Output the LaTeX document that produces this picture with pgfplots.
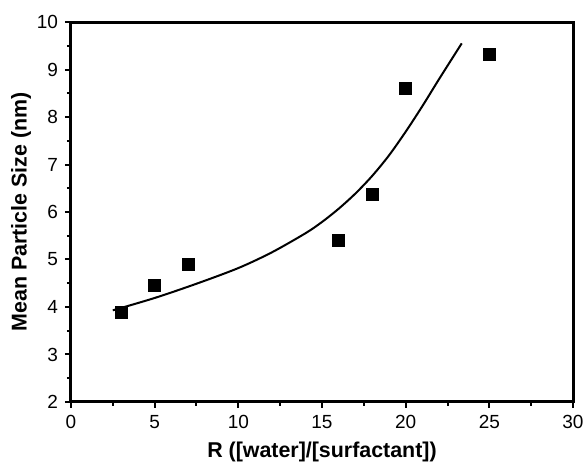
\documentclass[border=0pt]{standalone}
\usepackage{pgfplots}
\pgfplotsset{compat=1.18}
\usepackage{fontspec}
\setmainfont{Liberation Sans}

\begin{document}
\begin{tikzpicture}
\begin{axis}[
  scale only axis,
  width=251pt, height=190pt,
  xmin=0, xmax=30, ymin=2, ymax=10,
  xtick={0,5,...,30}, ytick={2,3,...,10},
  minor tick num=1,
  tick align=outside,
  xtick pos=left, ytick pos=left,
  major tick length=3pt, minor tick length=2pt,
  every tick/.style={line width=1pt, black},
  axis line style={line width=1.5pt},
  tick label style={font=\fontsize{9.5}{11}\selectfont},
  /pgf/number format/assume math mode=true,
  xlabel={\textbf{R ([water]/[surfactant])}},
  ylabel={\textbf{Mean Particle Size (nm)}},
  label style={font=\fontsize{10.7}{13}\selectfont},
  xlabel style={yshift=0pt},
  ylabel style={yshift=-4pt},
  clip=false,
]
% fitted curve
\addplot[black, line width=1pt, smooth] coordinates {
  (2.5,3.93) (5,4.19) (7.5,4.49) (10,4.82) (12,5.15) (14,5.55)
  (15,5.79) (16,6.07) (17,6.39) (18,6.76) (19,7.19) (20,7.69)
  (21,8.23) (22,8.80) (23.35,9.55)};
% measured points
\addplot[only marks, mark=square*, mark size=3pt, black] coordinates {
  (3,3.88) (5,4.45) (7,4.90) (16,5.41) (18,6.38) (20,8.61) (25,9.32)};
\end{axis}
\pgfresetboundingbox
\path ([shift={(-35.5pt,-30.5pt)}]current axis.south west)
  rectangle ([shift={(5pt,11pt)}]current axis.north east);
\end{tikzpicture}
\end{document}
